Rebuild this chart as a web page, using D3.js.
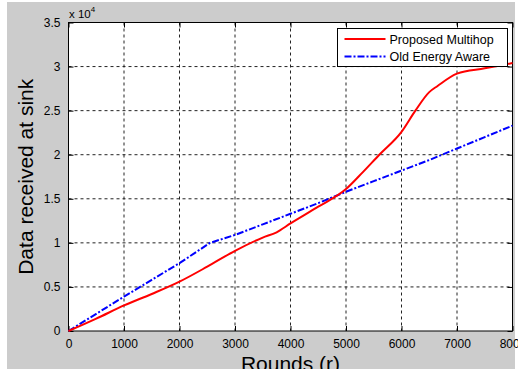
<!DOCTYPE html>
<html>
<head>
<meta charset="utf-8">
<script src="https://cdn.jsdelivr.net/npm/d3@7"></script>
<style>
  body { margin: 0; background: #fff; }
  svg { display: block; font-family: "Liberation Sans", Arial, sans-serif; }
</style>
</head>
<body>
<div id="chart"></div>
<script>
// data
var rounds = [0, 500, 1000, 1500, 2000, 2500, 3000, 3500, 3750, 4000, 4500, 5000, 5300, 5600, 6000, 6250, 6500, 6650, 7000, 7500, 8000];
var proposedMultihop = [0, 1400, 2900, 4200, 5600, 7300, 9100, 10600, 11200, 12200, 14100, 16100, 18000, 20000, 22600, 25000, 27100, 27800, 29200, 29800, 30400];

var roundsOld = [0, 500, 1000, 1500, 2000, 2550, 3000, 3500, 4000, 4500, 5000, 5500, 6000, 6500, 7000, 7500, 8000];
var oldEnergyAware = [0, 1950, 3900, 5800, 7700, 10000, 10900, 12100, 13300, 14500, 15800, 17000, 18200, 19400, 20700, 22000, 23300];

var xTicks = [0, 1000, 2000, 3000, 4000, 5000, 6000, 7000, 8000];
var yTicks = [0, 5000, 10000, 15000, 20000, 25000, 30000, 35000];
var seriesNames = ["Proposed Multihop", "Old Energy Aware"];

var W = 518, H = 369;
var margin = { top: 22.5, right: 5.5, bottom: 38, left: 68.5 },
  width = W - margin.left - margin.right,
  height = H - margin.top - margin.bottom;

var svg = d3.select("#chart").append("svg")
  .attr("width", W)
  .attr("height", H);

// figure background
svg.append("rect")
  .attr("x", 7).attr("y", 2)
  .attr("width", 508).attr("height", H - 2)
  .style("fill", "#cccccc");

var g = svg.append("g")
  .attr("transform", "translate(" + margin.left + "," + margin.top + ")");

var x = d3.scaleLinear().domain([0, 8000]).range([0, width]);
var y = d3.scaleLinear().domain([0, 35000]).range([height, 0]);

g.append("rect")
  .attr("width", width).attr("height", height)
  .style("fill", "#fff");

// grid
g.append("g")
  .attr("class", "grid")
  .selectAll("line.gx")
  .data(xTicks.slice(1, -1))
  .enter().append("line")
  .attr("x1", d => x(d)).attr("x2", d => x(d))
  .attr("y1", 0).attr("y2", height)
  .style("stroke", "#222").style("stroke-width", 1)
  .style("stroke-dasharray", "3,3");

g.append("g")
  .attr("class", "grid")
  .selectAll("line.gy")
  .data(yTicks.slice(1, -1))
  .enter().append("line")
  .attr("y1", d => y(d)).attr("y2", d => y(d))
  .attr("x1", 0).attr("x2", width)
  .style("stroke", "#222").style("stroke-width", 1)
  .style("stroke-dasharray", "3,3");

// axes (ticks inward)
var fmtY = d => d === 0 ? "0" : d3.format("~g")(d / 1e4);

g.append("g")
  .attr("transform", "translate(0," + height + ")")
  .call(d3.axisBottom(x).tickValues(xTicks).tickSize(-5).tickPadding(8).tickFormat(d3.format("d")))
  .call(a => a.select(".domain").remove());

g.append("g")
  .call(d3.axisTop(x).tickValues(xTicks).tickSize(-5).tickFormat(""))
  .call(a => a.select(".domain").remove());

g.append("g")
  .call(d3.axisLeft(y).tickValues(yTicks).tickSize(-5).tickPadding(8).tickFormat(fmtY))
  .call(a => a.select(".domain").remove());

g.append("g")
  .attr("transform", "translate(" + width + ",0)")
  .call(d3.axisRight(y).tickValues(yTicks).tickSize(-5).tickFormat(""))
  .call(a => a.select(".domain").remove());

g.selectAll(".tick line").style("stroke", "#000");
g.selectAll(".tick text")
  .style("font-family", "Liberation Sans, Arial, sans-serif")
  .style("font-size", "12px")
  .style("fill", "#000");

g.append("rect")
  .attr("width", width).attr("height", height)
  .style("fill", "none").style("stroke", "#000").style("stroke-width", 1);

// lines
var lineP = d3.line()
  .x((d, i) => x(rounds[i]))
  .y(d => y(d))
  .curve(d3.curveMonotoneX);
var lineO = d3.line()
  .x((d, i) => x(roundsOld[i]))
  .y(d => y(d));

g.append("path")
  .datum(oldEnergyAware)
  .attr("d", lineO)
  .style("fill", "none").style("stroke", "#0000ff").style("stroke-width", 2)
  .style("stroke-dasharray", "7,2,2,2");

g.append("path")
  .datum(proposedMultihop)
  .attr("d", lineP)
  .style("fill", "none").style("stroke", "#ff0000").style("stroke-width", 2);

// exponent label
var ex = svg.append("text")
  .attr("x", 69).attr("y", 18)
  .style("font-size", "11.5px");
ex.append("tspan").text("x 10");
ex.append("tspan").attr("dy", -6).style("font-size", "8px").text("4");

// legend
var lg = svg.append("g").attr("transform", "translate(337.5,28.5)");
lg.append("rect")
  .attr("width", 170).attr("height", 38)
  .style("fill", "#fff").style("stroke", "#000").style("stroke-width", 1);
var colors = ["#ff0000", "#0000ff"];
var dashes = [null, "7,2,2,2"];
seriesNames.forEach(function (name, i) {
  var yy = 10.5 + i * 17.5;
  lg.append("line")
    .attr("x1", 7).attr("x2", 48).attr("y1", yy).attr("y2", yy)
    .style("stroke", colors[i]).style("stroke-width", 2)
    .style("stroke-dasharray", dashes[i]);
  lg.append("text")
    .attr("x", 52).attr("y", yy + 4.5)
    .style("font-size", "12.5px")
    .text(name);
});

// axis titles
svg.append("text")
  .attr("transform", "translate(33," + (margin.top + height / 2) + ") rotate(-90)")
  .style("text-anchor", "middle")
  .style("font-size", "21px")
  .text("Data received at sink");

svg.append("text")
  .attr("x", margin.left + width / 2)
  .attr("y", 371)
  .style("text-anchor", "middle")
  .style("font-size", "21px")
  .text("Rounds (r)");
</script>
</body>
</html>
